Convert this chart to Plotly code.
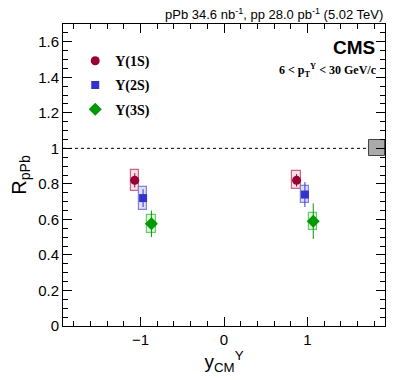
import plotly.graph_objects as go

# rapidity bin centres (slightly shifted per state), R_pPb values and uncertainties
states = ["Υ(1S)", "Υ(2S)", "Υ(3S)"]
x_1s = [-1.07, 0.87]
y_1s = [0.82, 0.82]
stat_1s = [0.04, 0.035]
sys_1s = [0.06, 0.05]

x_2s = [-0.97, 0.97]
y_2s = [0.72, 0.74]
stat_2s = [0.05, 0.07]
sys_2s = [0.065, 0.05]

x_3s = [-0.87, 1.07]
y_3s = [0.575, 0.59]
stat_3s = [0.075, 0.1]
sys_3s = [0.05, 0.048]

# global uncertainty box drawn at the right edge
glob_x = [1.835]
glob_y = [1.0]
glob_unc = [0.045]

colors = ["#990033", "#3333cc", "#009900"]
edge_colors = ["#cc6680", "#8080e6", "#66cc66"]
fill_colors = ["rgba(230,80,120,0.18)", "rgba(80,80,230,0.18)", "rgba(60,200,60,0.15)"]
symbols = ["circle", "square", "diamond"]
sizes = [9, 8, 10]

series = [(x_1s, y_1s, stat_1s, sys_1s), (x_2s, y_2s, stat_2s, sys_2s), (x_3s, y_3s, stat_3s, sys_3s)]

fig = go.Figure()

# systematic boxes
for i, (xs, ys, st, sy) in enumerate(series):
    fig.add_trace(go.Bar(
        x=xs, y=[2 * s for s in sy], base=[v - s for v, s in zip(ys, sy)], width=0.1,
        marker=dict(color=fill_colors[i], line=dict(color=edge_colors[i], width=1.2)),
        showlegend=False, hoverinfo="skip"))

# global uncertainty
fig.add_trace(go.Bar(
    x=glob_x, y=[2 * u for u in glob_unc], base=[g - u for g, u in zip(glob_y, glob_unc)], width=0.19,
    marker=dict(color="#aaaaaa", line=dict(color="#444444", width=1)),
    showlegend=False, hoverinfo="skip"))

# points with statistical errors
for i, (xs, ys, st, sy) in enumerate(series):
    fig.add_trace(go.Scatter(
        x=xs, y=ys, mode="markers", name=states[i], legendgroup=states[i],
        marker=dict(symbol=symbols[i], size=sizes[i], color=colors[i]),
        error_y=dict(type="data", array=st, width=0, thickness=1, color=colors[i])))

fig.add_shape(type="line", xref="x", yref="y", x0=-1.93, x1=1.93, y0=1, y1=1,
              line=dict(color="black", width=1, dash="3px,3px"), layer="below")

fig.add_annotation(text="pPb 34.6 nb<sup>-1</sup>, pp 28.0 pb<sup>-1</sup> (5.02 TeV)",
                   xref="paper", yref="paper", x=1.0, y=1.0, xanchor="right", yanchor="bottom",
                   showarrow=False, font=dict(family="Liberation Sans", size=13, color="black"))
fig.add_annotation(text="<b>CMS</b>", xref="paper", yref="paper", x=0.975, y=0.965,
                   xanchor="right", yanchor="top", showarrow=False,
                   font=dict(family="Liberation Sans", size=19, color="black"))
fig.add_annotation(text="<b>6 < p<sub>T</sub><sup>Υ</sup> < 30 GeV/c</b>", xref="paper", yref="paper",
                   x=0.98, y=0.88, xanchor="right", yanchor="top", showarrow=False,
                   font=dict(family="Liberation Serif", size=12, color="black"))

axis_common = dict(showgrid=False, zeroline=False, showline=True, linecolor="black", linewidth=1,
                   mirror="allticks", ticks="inside", tickcolor="black", automargin=False,
                   tickfont=dict(family="Liberation Sans", size=15, color="black"))

fig.update_layout(
    width=399, height=380,
    margin=dict(l=63, r=14, t=24, b=54),
    paper_bgcolor="white", plot_bgcolor="white",
    barmode="overlay", bargap=0,
    font=dict(family="Liberation Sans", color="black"),
    xaxis=dict(range=[-1.93, 1.93], tick0=0, dtick=1, ticklen=9,
               minor=dict(dtick=0.2, tick0=0, ticklen=5, ticks="inside", tickcolor="black"),
               title=dict(text="y<sub>CM</sub><sup>Υ</sup>", font=dict(size=19), standoff=0),
               **axis_common),
    yaxis=dict(range=[0, 1.7], tick0=0, dtick=0.2, ticklen=9,
               minor=dict(dtick=0.05, tick0=0, ticklen=5, ticks="inside", tickcolor="black"),
               title=dict(text="R<sub>pPb</sub>", font=dict(size=20), standoff=6),
               **axis_common),
    legend=dict(x=0.038, y=0.93, xanchor="left", yanchor="top", bgcolor="rgba(0,0,0,0)",
                tracegroupgap=3, font=dict(family="Liberation Serif", size=14, weight="bold")),
    showlegend=True,
)

fig.write_html("out.html", config={"displayModeBar": False},
               post_script="document.body.style.margin='0';")
